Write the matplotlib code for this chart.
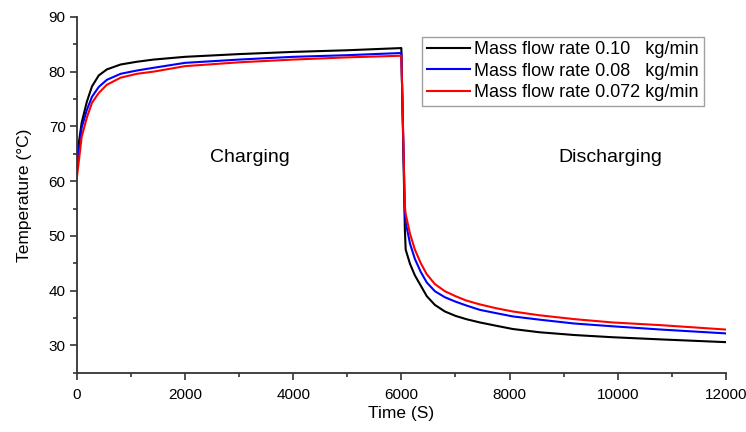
import numpy as np
import matplotlib
matplotlib.use("Agg")
import matplotlib.pyplot as plt
from matplotlib.ticker import MultipleLocator

plt.rcParams['font.family'] = ['Liberation Sans', 'DejaVu Sans']

# time points (s): charging then discharging
t_charge = [0, 90, 185, 280, 405, 555, 810, 1110, 1420, 2000, 3000, 4000, 5000, 6000]
t_discharge = [6065, 6080, 6160, 6250, 6360, 6470, 6620, 6805, 7000, 7200, 7450,
               7750, 8060, 8560, 9200, 9900, 10800, 12000]

# temperature (C) for each mass flow rate
T_010_charge = [64.5, 70.7, 74.5, 77.3, 79.3, 80.4, 81.3, 81.8, 82.2, 82.7, 83.2, 83.6, 83.9, 84.3]
T_008_charge = [62.5, 69.8, 73.0, 75.4, 77.2, 78.5, 79.6, 80.2, 80.7, 81.6, 82.2, 82.7, 83.0, 83.4]
T_0072_charge = [60.6, 68.1, 71.6, 74.3, 76.1, 77.6, 78.9, 79.6, 80.0, 81.0, 81.7, 82.2, 82.6, 82.9]

T_010_discharge = [51.2, 47.5, 44.9, 42.8, 40.9, 39.0, 37.4, 36.2, 35.4, 34.8, 34.2,
                   33.6, 33.0, 32.4, 31.9, 31.5, 31.1, 30.6]
T_008_discharge = [54.3, 52.5, 48.6, 45.8, 43.4, 41.5, 39.9, 38.8, 38.0, 37.3, 36.5,
                   35.9, 35.3, 34.7, 34.0, 33.5, 32.9, 32.2]
T_0072_discharge = [55.4, 54.0, 50.4, 47.5, 45.0, 43.0, 41.2, 39.9, 39.0, 38.2, 37.5,
                    36.8, 36.2, 35.5, 34.8, 34.2, 33.7, 32.9]

labels = ["Mass flow rate 0.10   kg/min",
          "Mass flow rate 0.08   kg/min",
          "Mass flow rate 0.072 kg/min"]
colors = ["black", "#0000ff", "#ff0000"]

fig = plt.figure(figsize=(7.46, 4.32), dpi=100)
ax = fig.add_axes([0.103, 0.137, 0.870, 0.824])

t_all = np.array(t_charge + t_discharge)
series = [T_010_charge + T_010_discharge,
          T_008_charge + T_008_discharge,
          T_0072_charge + T_0072_discharge]
for T, c, lab in zip(series, colors, labels):
    ax.plot(t_all, T, color=c, lw=1.5, label=lab)

ax.set_xlim(0, 12000)
ax.set_ylim(25, 90)
ax.xaxis.set_major_locator(MultipleLocator(2000))
ax.xaxis.set_minor_locator(MultipleLocator(1000))
ax.yaxis.set_major_locator(MultipleLocator(10))
ax.yaxis.set_minor_locator(MultipleLocator(5))

for s in ['top', 'right']:
    ax.spines[s].set_visible(False)
for s in ['left', 'bottom']:
    ax.spines[s].set_color('#333333')
    ax.spines[s].set_linewidth(1.3)
ax.tick_params(which='major', length=5, width=1.2, color='#333333', labelsize=11)
ax.tick_params(axis='x', which='major', pad=6)
ax.tick_params(axis='y', which='major', pad=3)
ax.tick_params(which='minor', length=3, width=1.2, color='#333333')

ax.set_xlabel("Time (S)", fontsize=12.5, labelpad=3)
ax.set_ylabel("Temperature (°C)", fontsize=12.5, labelpad=12)

ax.text(3200, 64.3, "Charging", fontsize=14, ha='center', va='center')
ax.text(9870, 64.3, "Discharging", fontsize=14, ha='center', va='center')

leg = ax.legend(loc='upper left', bbox_to_anchor=(0.532, 0.944), fontsize=13,
                frameon=True, fancybox=False, handlelength=2.4, handletextpad=0.25,
                borderpad=0.25, labelspacing=0.25, borderaxespad=0)
leg.get_frame().set_edgecolor('#888888')
leg.get_frame().set_linewidth(1.0)

plt.savefig("out.png", dpi=100)
